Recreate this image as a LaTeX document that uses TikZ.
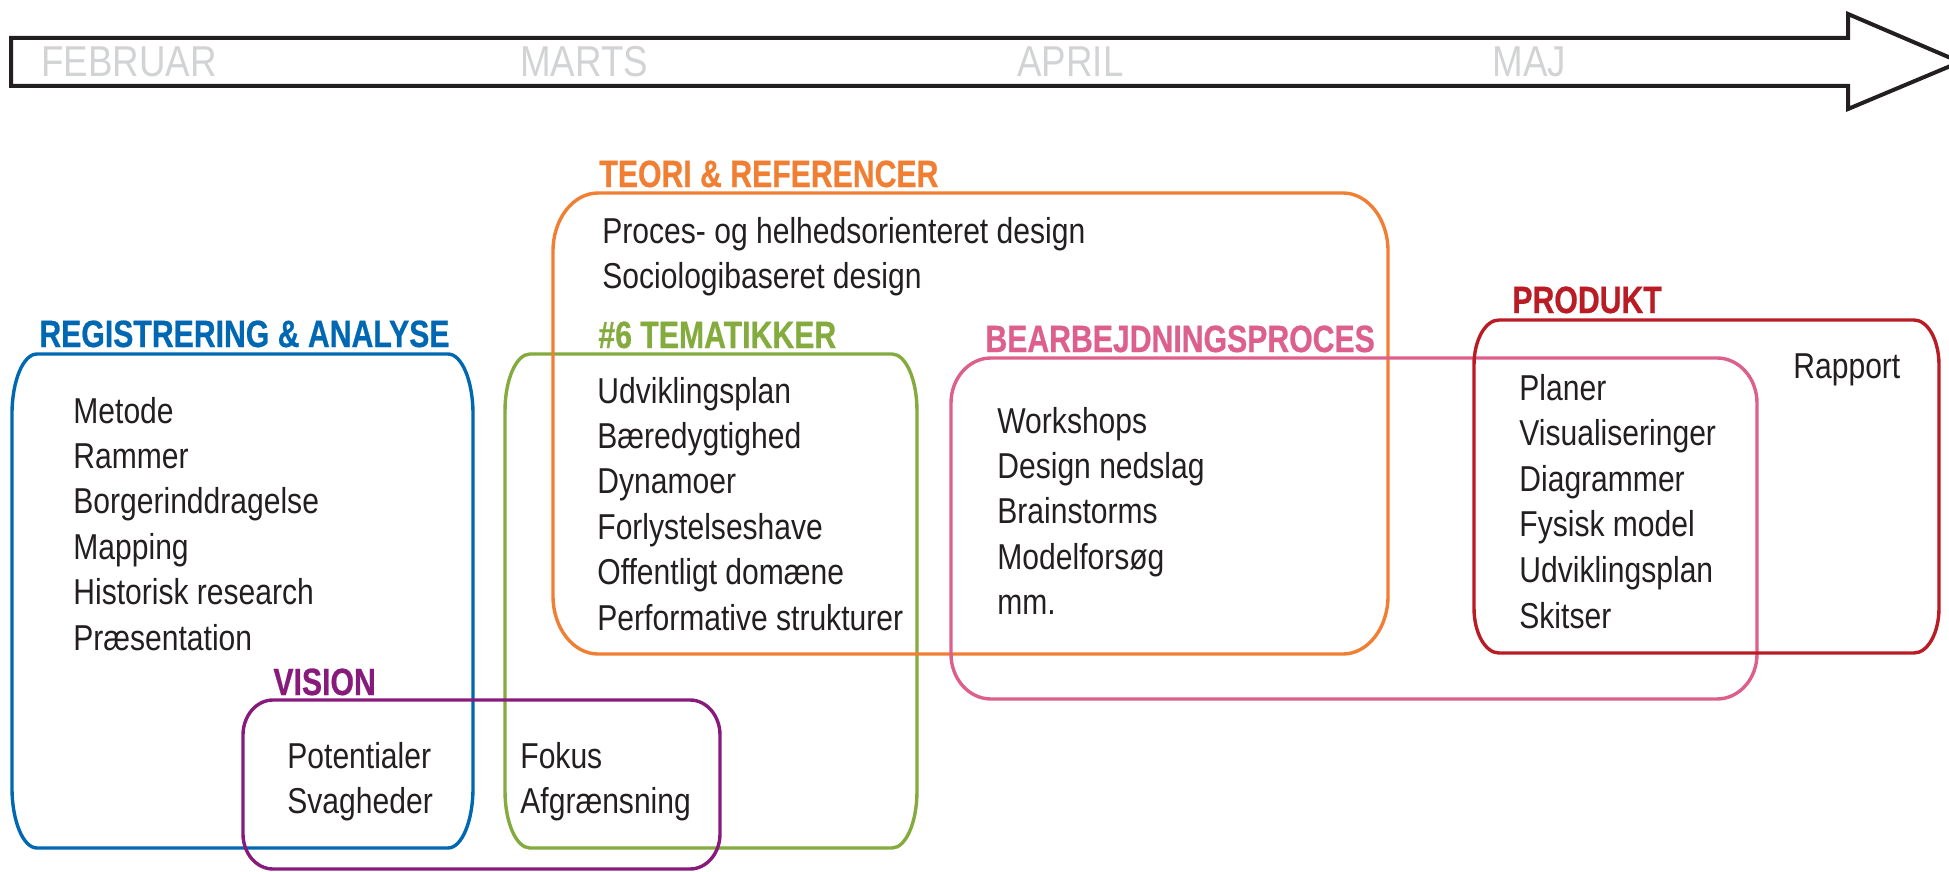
\documentclass[tikz,border=0pt]{standalone}
\usepackage{fontspec}
\setmainfont{Liberation Sans}
\newfontfamily\punktfont{Liberation Sans}[FakeStretch=0.835]
\newfontfamily\titelfont{Liberation Sans}[FakeStretch=0.795, FakeBold=0.6]
\newfontfamily\maanedfont{Liberation Sans}[FakeStretch=0.85]

\definecolor{tekst}{HTML}{231F20}
\definecolor{graa}{HTML}{D1D3D4}
\definecolor{blaa}{HTML}{0068B3}
\definecolor{orange}{HTML}{F07F33}
\definecolor{groen}{HTML}{84AB3D}
\definecolor{pink}{HTML}{DD5F8B}
\definecolor{roed}{HTML}{B91C24}
\definecolor{lilla}{HTML}{861B7C}

% boks med elliptiske hjoerner: farve, x1, y1, x2, y2, rx, ry
\newcommand{\boks}[7]{%
  \draw[#1, line width=1.7pt]
    (#2+#6,#3) -- (#4-#6,#3)
    .. controls (#4-0.448*#6,#3) and (#4,#3+0.448*#7) .. (#4,#3+#7)
    -- (#4,#5-#7)
    .. controls (#4,#5-0.448*#7) and (#4-0.448*#6,#5) .. (#4-#6,#5)
    -- (#2+#6,#5)
    .. controls (#2+0.448*#6,#5) and (#2,#5-0.448*#7) .. (#2,#5-#7)
    -- (#2,#3+#7)
    .. controls (#2,#3+0.448*#7) and (#2+0.448*#6,#3) .. (#2+#6,#3) -- cycle;
}

\begin{document}
\begin{tikzpicture}[x=0.5pt, y=-0.5pt,
    titel/.style={anchor=base west, inner sep=0pt, font=\titelfont\bfseries\fontsize{19}{19}\selectfont},
    punkt/.style={anchor=base west, inner sep=0pt, text=tekst, font=\punktfont\fontsize{18}{18}\selectfont},
    maaned/.style={anchor=base west, inner sep=0pt, text=graa, font=\maanedfont\fontsize{21.6}{21.6}\selectfont}]

    \useasboundingbox (0,0) rectangle (1949,872);

    % Tidslinje
    \draw[tekst, line width=2pt, line join=miter]
        (11,38) -- (1848,38) -- (1848,14) -- (1960,62) -- (1848,109) -- (1848,86) -- (11,86) -- cycle;
    \node[maaned] (feb) at (41,77) {FEBRUAR};
    \node[maaned] (mar) at (520,77) {MARTS};
    \node[maaned] (apr) at (1017,77) {APRIL};
    \node[maaned] (maj) at (1492,77) {MAJ};

    % Bokse
    \boks{blaa}{12}{354}{473}{848}{25}{60}
    \boks{groen}{505}{354}{917}{848}{25}{57}
    \boks{orange}{553}{193}{1388}{654}{45}{58}
    \boks{pink}{951}{358}{1757}{699}{40}{45}
    \boks{roed}{1474}{320}{1939}{653}{25}{45}
    \boks{lilla}{243}{700}{720}{869}{30}{35}

    % Overskrifter
    \node[titel, text=blaa] (reg) at (39,347) {REGISTRERING \& ANALYSE};
    \node[titel, text=orange] (teori) at (599,187) {TEORI \& REFERENCER};
    \node[titel, text=groen] (tema) at (598,348) {\#6 TEMATIKKER};
    \node[titel, text=pink] (bearb) at (985,352) {BEARBEJDNINGSPROCES};
    \node[titel, text=roed] (prod) at (1512,313) {PRODUKT};
    \node[titel, text=lilla] (vision) at (273,695) {VISION};

    % Punkter
    \foreach \t [count=\i] in {Metode, Rammer, Borgerinddragelse, Mapping, Historisk research, Præsentation}
        \node[punkt] (reg\i) at (73,{423+45.4*(\i-1)}) {\t};
    \foreach \t [count=\i] in {Proces- og helhedsorienteret design, Sociologibaseret design}
        \node[punkt] (teori\i) at (602,{243+45.4*(\i-1)}) {\t};
    \foreach \t [count=\i] in {Udviklingsplan, Bæredygtighed, Dynamoer, Forlystelseshave, Offentligt domæne, Performative strukturer}
        \node[punkt] (tema\i) at (597,{403+45.4*(\i-1)}) {\t};
    \foreach \t [count=\i] in {Workshops, Design nedslag, Brainstorms, Modelforsøg, mm.}
        \node[punkt] (bearb\i) at (997,{433+45.4*(\i-1)}) {\t};
    \foreach \t [count=\i] in {Planer, Visualiseringer, Diagrammer, Fysisk model, Udviklingsplan, Skitser}
        \node[punkt] (prod\i) at (1519,{400+45.6*(\i-1)}) {\t};
    \node[punkt] (rapport) at (1793,378) {Rapport};
    \foreach \t [count=\i] in {Potentialer, Svagheder}
        \node[punkt] (vision\i) at (287,{768+45.4*(\i-1)}) {\t};
    \foreach \t [count=\i] in {Fokus, Afgrænsning}
        \node[punkt] (fokus\i) at (520,{768+45.4*(\i-1)}) {\t};

\end{tikzpicture}
\end{document}
